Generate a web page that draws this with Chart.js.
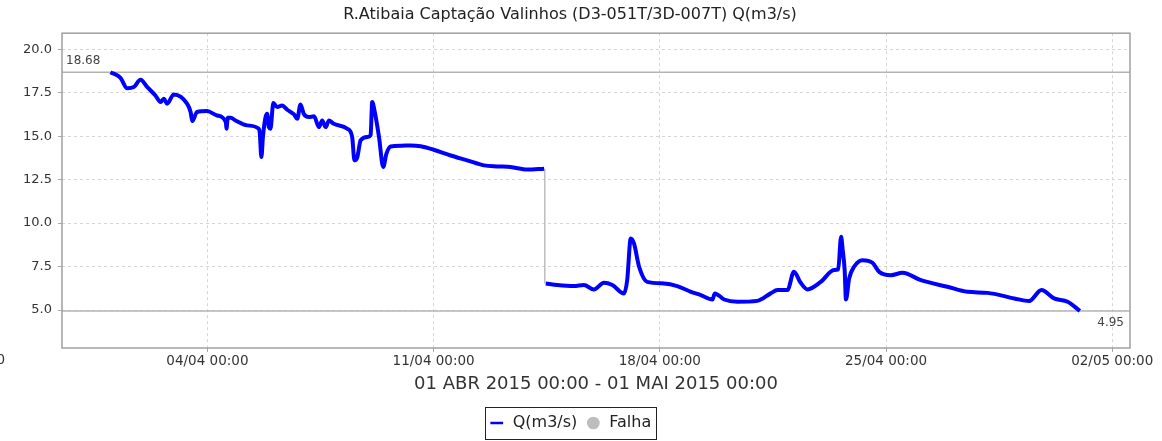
<!DOCTYPE html>
<html>
<head>
<meta charset="utf-8">
<script src="https://cdn.jsdelivr.net/npm/chart.js@4/dist/chart.umd.min.js"></script>
<style>
  html, body { margin: 0; padding: 0; background: #fff; }
  #wrap { width: 1162px; height: 441px; }
</style>
</head>
<body>
<div id="wrap"><canvas id="vazaoChart" width="1162" height="441"></canvas></div>
<script>
// dias contados a partir de 01/04/2015 00:00
const dias = [
  0.00, 0.31, 0.52, 0.72, 0.93, 1.14, 1.39, 1.55, 1.65, 1.75, 1.96, 2.37, 2.48, 2.53, 2.68,
  2.99, 3.30, 3.57, 3.59, 3.63, 3.72, 3.87, 4.23, 4.59, 4.62, 4.67, 4.72, 4.80, 4.85, 4.90,
  4.95, 5.04, 5.16, 5.31, 5.47, 5.68, 5.78, 5.88, 5.98, 6.14, 6.30, 6.45, 6.55, 6.66, 6.76,
  6.91, 7.33, 7.48, 7.55, 7.64, 7.74, 7.95, 8.05, 8.10, 8.17, 8.31, 8.44, 8.54, 8.67, 9.00,
  9.29, 9.60, 10.00, 10.53, 11.04, 11.56, 11.97, 12.38, 12.90, 13.42,
  13.45,
  13.47, 13.83, 14.34, 14.65, 14.96, 15.27, 15.53, 15.89, 15.99, 16.10, 16.20, 16.36, 16.61,
  17.13, 17.54, 17.96, 18.27, 18.63, 18.70, 18.99, 19.40, 20.02, 20.43, 20.64, 20.95, 21.15,
  21.35, 21.57, 21.98, 22.39, 22.52, 22.61, 22.66, 22.72, 22.76, 22.86, 23.01, 23.27, 23.58,
  23.79, 24.15, 24.51, 25.08, 25.90, 26.52, 27.14, 27.97, 28.43, 28.81, 29.20, 29.62, 30.00
];
// Q(m3/s)
const vazao = [
  18.68, 18.35, 17.75, 17.82, 18.24, 17.82, 17.34, 16.96, 17.15, 16.87, 17.40, 16.87, 16.39, 15.87, 16.39,
  16.44, 16.19, 15.81, 15.43, 16.06, 16.06, 15.90, 15.62, 15.43, 15.20, 13.80, 15.00, 16.10, 16.29, 15.52,
  15.43, 16.90, 16.67, 16.77, 16.52, 16.25, 16.00, 16.82, 16.29, 16.10, 16.14, 15.52, 15.90, 15.52, 15.90,
  15.71, 15.43, 14.95, 13.61, 13.80, 14.76, 14.95, 15.05, 16.96, 16.48, 14.95, 13.23, 14.00, 14.41, 14.45,
  14.47, 14.42, 14.22, 13.89, 13.61, 13.32, 13.26, 13.23, 13.08, 13.13,
  null,
  6.53, 6.44, 6.38, 6.44, 6.19, 6.57, 6.44, 5.96, 6.72, 9.12, 8.83, 7.49, 6.62,
  6.53, 6.38, 6.05, 5.86, 5.61, 5.96, 5.61, 5.48, 5.53, 5.96, 6.15, 6.15, 7.20,
  6.60, 6.19, 6.62, 7.30, 7.34, 9.21, 8.44, 7.30, 5.61, 6.82, 7.49, 7.87, 7.72,
  7.20, 7.01, 7.14, 6.72, 6.34, 6.05, 5.99, 5.67, 5.52, 6.15, 5.67, 5.48, 4.95
];
// trecho de falha (sem dados)
const falhaDias = [13.44, 13.44];
const falhaVazao = [13.13, 6.53];

const diasTicks = [3, 10, 17, 24, 31];
const rotulosX = ['04/04 00:00', '11/04 00:00', '18/04 00:00', '25/04 00:00', '02/05 00:00'];
const rotuloCortado = '28/03 00:00';
const valoresY = [5, 7.5, 10, 12.5, 15, 17.5, 20];

const vMax = Math.max(...vazao.filter(v => v !== null));
const vMin = Math.min(...vazao.filter(v => v !== null));

const fonte = 'DejaVu Sans';

// linhas de máximo/mínimo e moldura do gráfico
const marcadores = {
    id: 'marcadores',
    beforeDatasetsDraw(chart) {
        const { ctx, chartArea: a, scales: { y } } = chart;
        ctx.save();
        ctx.strokeStyle = '#b4b4b4';
        ctx.lineWidth = 1.5;
        [vMax, vMin].forEach(v => {
            const py = y.getPixelForValue(v);
            ctx.beginPath();
            ctx.moveTo(a.left, py);
            ctx.lineTo(a.right, py);
            ctx.stroke();
        });
        ctx.fillStyle = '#444';
        ctx.font = '12px ' + fonte;
        ctx.textAlign = 'left';
        ctx.textBaseline = 'bottom';
        ctx.fillText(vMax.toFixed(2), a.left + 4, y.getPixelForValue(vMax) - 5);
        ctx.textAlign = 'right';
        ctx.textBaseline = 'top';
        ctx.fillText(vMin.toFixed(2), a.right - 6, y.getPixelForValue(vMin) + 6);
        ctx.restore();
    },
    afterDraw(chart) {
        const { ctx, chartArea: a } = chart;
        ctx.save();
        ctx.strokeStyle = '#a0a0a0';
        ctx.lineWidth = 1.5;
        ctx.strokeRect(a.left, a.top, a.right - a.left, a.bottom - a.top);
        // rótulo que o eixo deixa cortado na borda esquerda
        ctx.fillStyle = '#333';
        ctx.font = '13.5px ' + fonte;
        ctx.textAlign = 'right';
        ctx.textBaseline = 'top';
        ctx.fillText(rotuloCortado, 5, a.bottom + 6);
        // caixa da legenda
        const boxes = chart.legend.legendHitBoxes;
        if (boxes && boxes.length) {
            const l = Math.min(...boxes.map(b => b.left)) - 4;
            const r = Math.max(...boxes.map(b => b.left + b.width)) + 4;
            const mid = (Math.min(...boxes.map(b => b.top)) + Math.max(...boxes.map(b => b.top + b.height))) / 2;
            ctx.strokeStyle = '#222';
            ctx.lineWidth = 1;
            ctx.strokeRect(Math.round(l) + 0.5, Math.round(mid - 16) + 0.5, Math.round(r - l), 32);
        }
        ctx.restore();
    }
};

const canvas = document.getElementById('vazaoChart');
new Chart(canvas, {
    type: 'line',
    data: {
        datasets: [{
            label: 'Q(m3/s)',
            data: dias.map((d, i) => ({ x: d, y: vazao[i] })),
            borderColor: '#0000ff',
            backgroundColor: '#0000ff',
            borderWidth: 4,
            pointRadius: 0,
            pointStyle: 'line',
            spanGaps: false,
            fill: false,
            cubicInterpolationMode: 'monotone'
        }, {
            label: 'Falha',
            data: falhaDias.map((d, i) => ({ x: d, y: falhaVazao[i] })),
            borderColor: '#bdbdbd',
            backgroundColor: '#bdbdbd',
            borderWidth: 1.5,
            pointRadius: 0,
            pointStyle: 'circle',
            fill: false
        }]
    },
    options: {
        responsive: false,
        animation: false,
        devicePixelRatio: 1,
        layout: { padding: { left: 10, right: 32, top: 0, bottom: 0 } },
        plugins: {
            title: {
                display: true,
                text: 'R.Atibaia Captação Valinhos (D3-051T/3D-007T) Q(m3/s)',
                color: '#222',
                font: { family: fonte, size: 16, weight: 'normal' },
                padding: { top: 5, bottom: 9 }
            },
            legend: {
                position: 'bottom',
                labels: {
                    usePointStyle: true,
                    color: '#222',
                    font: { family: fonte, size: 16 },
                    boxWidth: 22,
                    boxHeight: 9,
                    padding: 8,
                    generateLabels(chart) {
                        return chart.data.datasets.map((ds, i) => ({
                            text: ds.label,
                            fillStyle: ds.borderColor,
                            strokeStyle: ds.borderColor,
                            lineWidth: i === 0 ? 2.5 : 0,
                            pointStyle: ds.pointStyle,
                            datasetIndex: i,
                            fontColor: '#222'
                        }));
                    }
                }
            },
            tooltip: { enabled: false }
        },
        scales: {
            x: {
                type: 'linear',
                min: -1.5,
                max: 31.55,
                afterBuildTicks(scale) {
                    scale.ticks = diasTicks.map(v => ({ value: v }));
                },
                afterFit(scale) { scale.height = 59; },
                ticks: {
                    autoSkip: false,
                    maxRotation: 0,
                    color: '#333',
                    font: { family: fonte, size: 13.5 },
                    padding: 1,
                    callback(value) {
                        const i = diasTicks.indexOf(value);
                        return i >= 0 ? rotulosX[i] : '';
                    }
                },
                grid: { color: '#d6d6d6', tickLength: 4, tickColor: '#aaa' },
                border: { display: false, dash: [3, 3] },
                title: {
                    display: true,
                    text: '01 ABR 2015 00:00 - 01 MAI 2015 00:00',
                    color: '#333',
                    font: { family: fonte, size: 18 },
                    padding: { top: 2, bottom: 12 }
                }
            },
            y: {
                min: 2.82,
                max: 20.92,
                afterBuildTicks(scale) {
                    scale.ticks = valoresY.map(v => ({ value: v }));
                },
                afterFit(scale) { scale.width = 52; },
                ticks: {
                    color: '#333',
                    font: { family: fonte, size: 13 },
                    padding: 6,
                    callback: v => v.toFixed(1)
                },
                grid: { color: '#d6d6d6', tickLength: 4, tickColor: '#aaa' },
                border: { display: false, dash: [3, 3] }
            }
        }
    },
    plugins: [marcadores]
});
</script>
</body>
</html>
